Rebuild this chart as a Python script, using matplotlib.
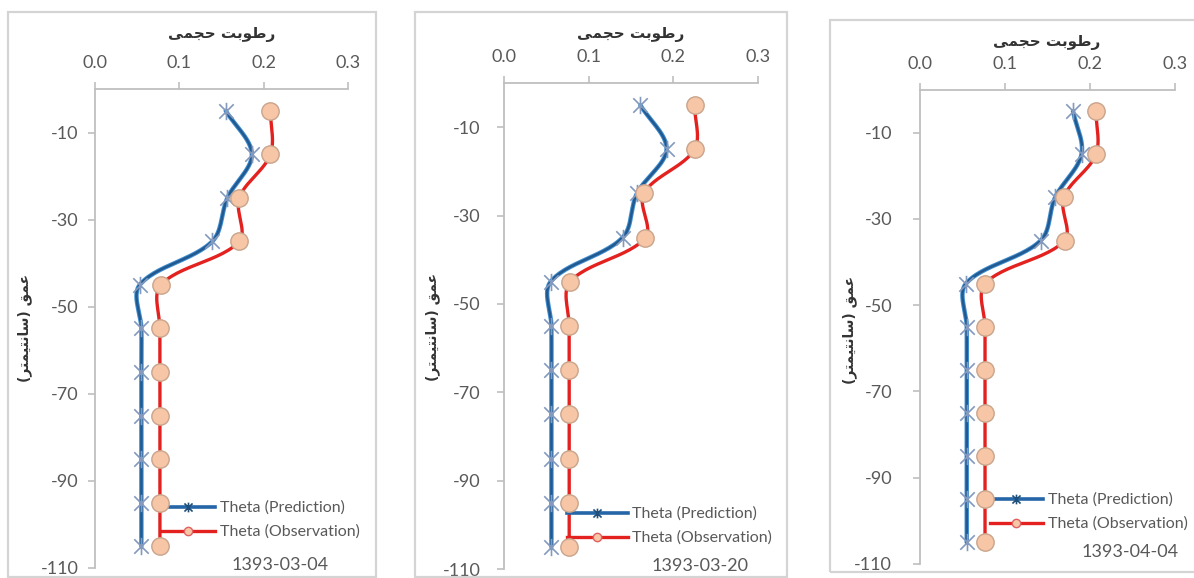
import numpy as np
import matplotlib
matplotlib.use('Agg')
import matplotlib.pyplot as plt
from matplotlib.lines import Line2D
from matplotlib.patches import Rectangle
from matplotlib.path import Path

plt.rcParams['font.family'] = ['Lato', 'DejaVu Sans']
plt.rcParams['axes.unicode_minus'] = False

# ---------------- data ----------------
depth = [-5, -15, -25, -35, -45, -55, -65, -75, -85, -95, -105]
dates = ['1393-03-04', '1393-03-20', '1393-04-04']
pred_1 = [0.155, 0.186, 0.157, 0.139, 0.053, 0.055, 0.055, 0.055, 0.055, 0.055, 0.055]
obs_1 = [0.208, 0.208, 0.171, 0.171, 0.078, 0.077, 0.077, 0.077, 0.077, 0.077, 0.077]
pred_2 = [0.161, 0.192, 0.157, 0.140, 0.055, 0.056, 0.056, 0.056, 0.056, 0.056, 0.056]
obs_2 = [0.225, 0.225, 0.165, 0.167, 0.078, 0.077, 0.077, 0.077, 0.077, 0.077, 0.077]
pred_3 = [0.180, 0.190, 0.159, 0.142, 0.054, 0.055, 0.055, 0.055, 0.055, 0.055, 0.055]
obs_3 = [0.207, 0.207, 0.169, 0.170, 0.0765, 0.0765, 0.0765, 0.0765, 0.0765, 0.0765, 0.0765]
x_ticks = [0.0, 0.1, 0.2, 0.3]
x_ticklabels = ['0.0', '0.1', '0.2', '0.3']
y_ticks = [-10, -30, -50, -70, -90, -110]
series_names = ['Theta (Prediction)', 'Theta (Observation)']

# Persian labels (pre-shaped presentation forms, visual order)
xlabel_fa = "\uFEF0\uFEE4\uFEA0\uFEA3 \uFE96\uFE91\uFEEE\uFEC3\uFEAD"          # رطوبت حجمی
ylabel_fa = "(\uFEAE\uFE98\uFEE4\uFEF4\uFE98\uFEE7\uFE8E\uFEB3) \uFED6\uFEE4\uFECB"  # عمق (سانتیمتر)

# ---------------- layout (pixels) ----------------
W, H = 1194, 578
fig = plt.figure(figsize=(W / 100, H / 100), dpi=100)
fig.patch.set_facecolor('white')


def fx(x):
    return x / W


def fy(y):
    return 1 - y / H


panels = [
    dict(ax=(95, 348, 89, 568), frame=(8, 376, 12, 577), ypad=7,
         xlab=(222, 35), ylab=(25, 328), leg=(162, 520, 3.3), date=(280, 565)),
    dict(ax=(504, 758, 83, 569), frame=(415, 787, 12, 577), ypad=12,
         xlab=(631, 35), ylab=(433, 327), leg=(567, 526, 3.8), date=(700, 566)),
    dict(ax=(920, 1175, 89.6, 564), frame=(830, 1200, 20, 572), ypad=15,
         xlab=(1047, 43), ylab=(850, 330), leg=(990, 512, 3.3), date=(1130, 552)),
]
preds = [pred_1, pred_2, pred_3]
obss = [obs_1, obs_2, obs_3]

star = Path([(-1, -1), (1, 1), (-1, 1), (1, -1), (0, -1.2), (0, 1.2)],
            [Path.MOVETO, Path.LINETO, Path.MOVETO, Path.LINETO, Path.MOVETO, Path.LINETO])

BLUE = '#2566a8'
RED = '#e3211f'
PEACH = '#f7c6a6'
GRAY_TXT = '#595959'
AXIS = '#bfbfbf'


def smooth(xs, ys, sx, sy, n=30):
    """Excel-like smoothed line: Bezier segments, handles scaled by segment lengths (pixel space)."""
    P = np.column_stack([np.asarray(xs, float) * sx, np.asarray(ys, float) * sy])
    Pe = np.vstack([P[0], P, P[-1]])
    out = []
    t = np.linspace(0, 1, n)[:, None]
    for i in range(len(P) - 1):
        p0, p1, p2, p3 = Pe[i], Pe[i + 1], Pe[i + 2], Pe[i + 3]
        d01 = np.linalg.norm(p1 - p0)
        d12 = np.linalg.norm(p2 - p1)
        d23 = np.linalg.norm(p3 - p2)
        a = d12 / (3 * (d01 + d12)) if d01 + d12 > 0 else 0
        b = d12 / (3 * (d12 + d23)) if d12 + d23 > 0 else 0
        c1 = p1 + (p2 - p0) * a
        c2 = p2 - (p3 - p1) * b
        seg = (1 - t) ** 3 * p1 + 3 * (1 - t) ** 2 * t * c1 + 3 * (1 - t) * t ** 2 * c2 + t ** 3 * p2
        out.append(seg if i == 0 else seg[1:])
    out = np.vstack(out)
    return out[:, 0] / sx, out[:, 1] / sy


for k, p in enumerate(panels):
    x0, x1, y0, y1 = p['ax']
    ax = fig.add_axes([fx(x0), fy(y1), (x1 - x0) / W, (y1 - y0) / H])
    ax.set_xlim(0, 0.3)
    ax.set_ylim(-110, 0)
    ax.patch.set_alpha(0)
    sx = (x1 - x0) / 0.3
    sy = (y1 - y0) / 110.0

    prx, pry = smooth(preds[k], depth, sx, sy)
    obx, oby = smooth(obss[k], depth, sx, sy)
    ax.plot(prx, pry, color='#3f8fd2', lw=3.2, zorder=3, solid_capstyle='round')
    ax.plot(prx, pry, color='#22598f', lw=1.8, zorder=3.1, solid_capstyle='round')
    ax.plot(preds[k], depth, ls='none', marker=star, ms=12.5, mew=1.2,
            mec='#8399be', mfc='none', zorder=4)
    ax.plot(obx, oby, color=RED, lw=2.4, zorder=5, solid_capstyle='round')
    ax.plot(obss[k], depth, ls='none', marker='o', ms=12.5, mew=1.0,
            mec='#c8a48c', mfc=PEACH, zorder=6)

    ax.xaxis.tick_top()
    ax.set_xticks(x_ticks)
    ax.set_xticklabels(x_ticklabels)
    ax.set_yticks(y_ticks)
    for s in ['right', 'bottom']:
        ax.spines[s].set_visible(False)
    for s in ['top', 'left']:
        ax.spines[s].set_color(AXIS)
        ax.spines[s].set_linewidth(1.3)
    ax.tick_params(axis='x', direction='out', length=5, width=1.2, color=AXIS,
                   labelsize=13, labelcolor=GRAY_TXT, pad=8)
    ax.tick_params(axis='y', direction='out', length=5, width=1.2, color=AXIS,
                   labelsize=13, labelcolor=GRAY_TXT, pad=p['ypad'])

    # frame
    fr = p['frame']
    fig.add_artist(Rectangle((fx(fr[0]), fy(fr[3])), (fr[1] - fr[0]) / W, (fr[3] - fr[2]) / H,
                             transform=fig.transFigure, fill=False, ec='#d4d4d4', lw=1.6))

    # labels
    fig.text(fx(p['xlab'][0]), fy(p['xlab'][1]), xlabel_fa, ha='center', va='center',
             fontsize=11, fontweight='bold', color='#333333', family='DejaVu Sans')
    fig.text(fx(p['ylab'][0]), fy(p['ylab'][1]), ylabel_fa, ha='center', va='center',
             rotation=90, fontsize=10, fontweight='bold', color='#333333', family='DejaVu Sans')
    fig.text(fx(p['date'][0]), fy(p['date'][1]), dates[k], ha='center', va='center',
             fontsize=13, color=GRAY_TXT)

    # legend
    handles = [
        Line2D([], [], color=BLUE, lw=2.6, marker=star, ms=7, mew=1.2, mec='#1f4e79', mfc='none'),
        Line2D([], [], color=RED, lw=2.4, marker='o', ms=6, mew=1.0, mec='#e06060', mfc=PEACH),
    ]
    lx, ly, hl = p['leg']
    leg = ax.legend(handles, series_names, loc='center left',
                    bbox_to_anchor=(fx(lx), fy(ly)), bbox_transform=fig.transFigure,
                    frameon=False, fontsize=11.5, handlelength=hl, handletextpad=0.3,
                    labelspacing=0.6, borderpad=0, borderaxespad=0)
    for t in leg.get_texts():
        t.set_color(GRAY_TXT)

fig.savefig('out.png', dpi=100, facecolor='white')
